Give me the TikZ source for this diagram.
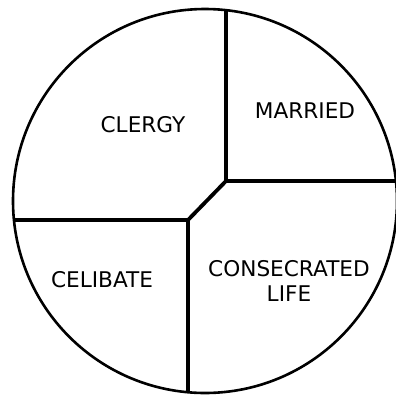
\documentclass[tikz,border=0pt]{standalone}
\usepackage{fontspec}
\setmainfont{DejaVu Sans}
\usetikzlibrary{calc}

\begin{document}
\begin{tikzpicture}[x=1bp,y=-1bp,
    divider/.style={line width=3.8bp,line cap=rect},
    sector/.style={font=\fontsize{21.7}{24}\selectfont,align=center,inner sep=0pt}]
  \useasboundingbox (0,0) rectangle (396,396);
  \clip (0,0) rectangle (396,396);
  % outer circle
  \coordinate (centre) at (205,201);
  % junctions of the dividing lines
  \coordinate (upper) at (226,181);
  \coordinate (lower) at (188,220);
  \coordinate (top) at (226,0);
  \coordinate (right) at (420,181);
  \coordinate (left) at (0,220);
  \coordinate (bottom) at (188,420);
  % dividing lines, cut at the rim
  \begin{scope}
    \clip (centre) circle (192);
    \draw[divider] (top) -- (upper) -- (right);
    \draw[divider] (upper) -- (lower);
    \draw[divider] (left) -- (lower) -- (bottom);
  \end{scope}
  \draw[line width=2.6bp] (centre) circle (192);
  % labels
  \node[sector] (clergy) at (143,125) {CLERGY};
  \node[sector] (married) at (305,111) {MARRIED};
  \node[sector] (celibate) at (102,280) {CELIBATE};
  \node[sector] (consecrated) at (289,281) {CONSECRATED\\[1bp]LIFE};
\end{tikzpicture}
\end{document}
